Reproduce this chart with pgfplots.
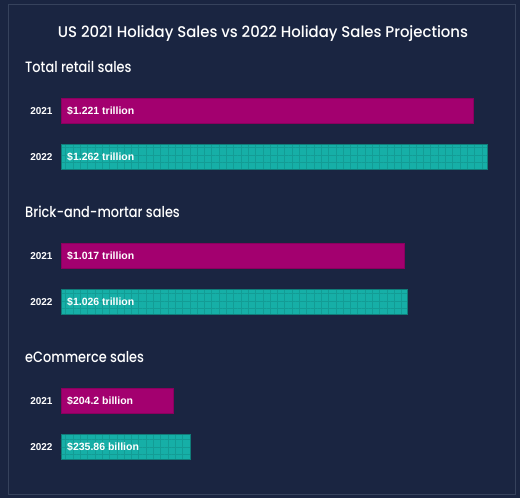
\documentclass[border=0pt]{standalone}
\usepackage{pgfplots}
\pgfplotsset{compat=1.18}
\usepackage{fontspec}
\setmainfont{Liberation Sans}
\newfontfamily\headfont{Poppins Medium}[FakeStretch=0.96]
\newfontfamily\subfont{Poppins Medium}[FakeStretch=0.86]
\usetikzlibrary{patterns.meta}

\definecolor{bg}{HTML}{1A2541}
\definecolor{frame}{HTML}{36425C}
\definecolor{mag}{HTML}{A3006F}
\definecolor{magedge}{HTML}{8A005E}
\definecolor{teal}{HTML}{16AFA7}
\definecolor{tealedge}{HTML}{107C78}
\definecolor{tealgrid}{HTML}{139C95}

\tikzset{
  barlabel/.style={anchor=west, inner sep=0pt, xshift=6pt, text=white,
    font=\bfseries\fontsize{10.5}{12}\selectfont},
  subhead/.style={anchor=base west, inner sep=0pt, text=white,
    font=\subfont\fontsize{15}{18}\selectfont},
}

\pgfplotsset{
  salesbar/.style={
    scale only axis, width=440pt, height=92pt,
    anchor=north west, clip=false,
    xbar, bar width=25pt, xmin=0,
    ymin=-0.5, ymax=1.5, y dir=reverse,
    axis line style={draw=none}, tick style={draw=none},
    xtick=\empty, ytick={0,1}, yticklabels={2021,2022},
    yticklabel style={font=\bfseries\fontsize{10}{12}\selectfont,
      text=white, inner sep=0pt, xshift=-4pt},
  },
  y2021/.style={bar shift=0pt, fill=mag, draw=magedge, line width=0.6pt},
  y2022/.style={bar shift=0pt, fill=teal, draw=tealedge, line width=0.6pt,
    postaction={pattern={Hatch[angle=0, distance=7.3pt, line width=0.5pt]},
      pattern color=tealgrid}},
}

\begin{document}
\begin{tikzpicture}[x=1pt, y=1pt]
  % background panel and frame
  \fill[bg] (0,0) rectangle (520,498);
  \draw[frame, line width=0.8pt] (8.5,3.5) rectangle (515.5,494);

  % headings
  \node[anchor=base, text=white, font=\headfont\fontsize{15.5}{18}\selectfont]
    at (263,460.8) {US 2021 Holiday Sales vs 2022 Holiday Sales Projections};
  \node[subhead] at (25,425.3) {Total retail sales};
  \node[subhead] at (25,280.3) {Brick-and-mortar sales};
  \node[subhead] at (25,135.3) {eCommerce sales};

  % Total retail sales (trillion USD)
  \begin{axis}[salesbar, at={(61pt,410.2pt)}, xmax=1.3029]
    \addplot[y2021] coordinates {(1.221,0)};
    \addplot[y2022] coordinates {(1.262,1)};
    \node[barlabel] at (axis cs:0,0) {\$1.221 trillion};
    \node[barlabel] at (axis cs:0,1) {\$1.262 trillion};
  \end{axis}

  % Brick-and-mortar sales (trillion USD)
  \begin{axis}[salesbar, at={(61pt,265pt)}, xmax=1.3029]
    \addplot[y2021] coordinates {(1.017,0)};
    \addplot[y2022] coordinates {(1.026,1)};
    \node[barlabel] at (axis cs:0,0) {\$1.017 trillion};
    \node[barlabel] at (axis cs:0,1) {\$1.026 trillion};
  \end{axis}

  % eCommerce sales (billion USD)
  \begin{axis}[salesbar, at={(61pt,119.8pt)}, xmax=803]
    \addplot[y2021] coordinates {(204.2,0)};
    \addplot[y2022] coordinates {(235.86,1)};
    \node[barlabel] at (axis cs:0,0) {\$204.2 billion};
    \node[barlabel] at (axis cs:0,1) {\$235.86 billion};
  \end{axis}
\end{tikzpicture}
\end{document}
